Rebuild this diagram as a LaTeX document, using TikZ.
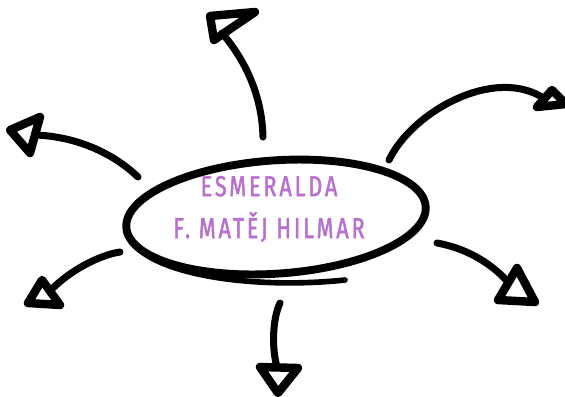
\documentclass[tikz,border=0pt]{standalone}
\usepackage{fontspec}
\newfontfamily\namefont[FakeStretch=0.75,LetterSpace=10,FakeBold=1.6]{Fira Sans}
\usetikzlibrary{shapes.geometric}
\definecolor{namepurple}{RGB}{184,112,206}

\begin{document}
\begin{tikzpicture}[x=0.025cm,y=-0.025cm,line cap=round,line join=round]
  \tikzstyle{brush}=[draw=black,line width=5pt]
  \tikzstyle{head}=[draw=black,line width=6pt]
  \tikzstyle{hub}=[ellipse,draw=black,line width=5.6pt,minimum width=7.5cm,
                   minimum height=2.83cm,inner sep=0pt,rotate=4]
  \tikzstyle{nametext}=[align=center,text=namepurple,
                   font=\namefont\fontsize{20.5}{29.8}\selectfont]

  \useasboundingbox (0,0) rectangle (565,396);

  \node[hub]      (hub)  at (276,217) {};
  \node[nametext] (name) at (269,209) {ESMERALDA\\F. MATĚJ HILMAR};

  % second stroke under the ellipse
  \draw[line width=4pt] (126,232) .. controls (140,274) and (250,290) .. (345,280);

  % arrow ends
  \coordinate (N0)  at (263,137); \coordinate (N)  at (222,33);
  \coordinate (NW0) at (138,177); \coordinate (NW) at (36,135);
  \coordinate (NE0) at (389,160); \coordinate (NE) at (545,99);
  \coordinate (SW0) at (120,252); \coordinate (SW) at (50,291);
  \coordinate (S0)  at (280,303); \coordinate (S)  at (277,367);
  \coordinate (SE0) at (437,243); \coordinate (SE) at (508,282);

  \draw[brush] (N0)  .. controls (262,95)  and (245,60)  .. (N);
  \draw[brush] (NW0) .. controls (115,155) and (80,137)  .. (NW);
  \draw[brush] (NE0) .. controls (412,112) and (495,65)  .. (NE);
  \draw[brush] (SW0) .. controls (100,255) and (70,270)  .. (SW);
  \draw[brush] (S0)  .. controls (272,320) and (272,350) .. (S);
  \draw[brush] (SE0) .. controls (465,248) and (490,262) .. (SE);

  % open heads
  \draw[head] (210,16)  -- (255,12)  -- (214,40)  -- cycle;
  \draw[head] (10,130)  -- (40,117)  -- (30,153)  -- cycle;
  \draw[head] (552,90)  -- (566,104) -- (537,107) -- cycle;
  \draw[head] (28,303)  -- (60,305)  -- (42,280)  -- cycle;
  \draw[head] (260,367) -- (298,368) -- (278,393) -- cycle;
  \draw[head] (517,268) -- (498,300) -- (535,302) -- cycle;
\end{tikzpicture}
\end{document}
